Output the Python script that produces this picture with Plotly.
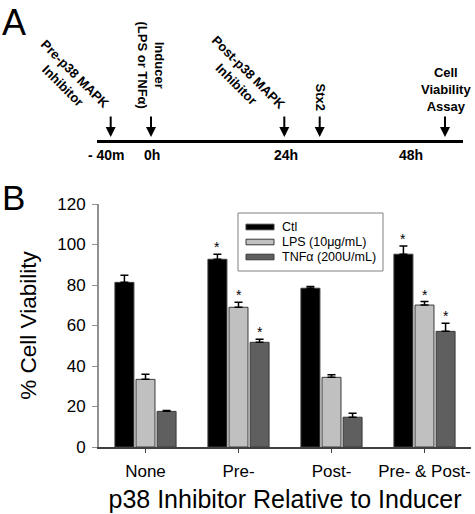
import plotly.graph_objects as go

categories = ["None", "Pre-", "Post-", "Pre- & Post-"]
series_names = ["Ctl", "LPS (10\u03bcg/mL)", "TNF\u03b1 (200U/mL)"]
ctl = [81.3, 92.7, 78.4, 95.2]
ctl_err = [3.5, 2.5, 0.8, 4.0]
lps = [33.4, 69.0, 34.4, 70.1]
lps_err = [2.5, 2.5, 1.3, 1.7]
tnf = [17.6, 51.7, 14.7, 57.1]
tnf_err = [0.4, 1.5, 2.0, 4.0]
ctl_sig = [False, True, False, True]
lps_sig = [False, True, False, True]
tnf_sig = [False, True, False, True]
y_ticks = [0, 20, 40, 60, 80, 100, 120]
time_labels = ["- 40m", "0h", "24h", "48h"]

colors = ["#000000", "#c0c0c0", "#5f5f5f"]
FONT = "Liberation Sans, Arial, sans-serif"

W, H = 475, 514
L, R, T, B = 99, 4, 204, 67
BARGAP = 0.32

fig = go.Figure()
values = [ctl, lps, tnf]
errs = [ctl_err, lps_err, tnf_err]
sigs = [ctl_sig, lps_sig, tnf_sig]
for name, v, e, c in zip(series_names, values, errs, colors):
    fig.add_trace(go.Bar(
        x=categories, y=v, name=name, showlegend=False,
        marker=dict(color=c, line=dict(color="#3a3a3a", width=1)),
        error_y=dict(type="data", array=e, arrayminus=[0] * len(e), symmetric=False,
                     color="#000000", thickness=1.5, width=4),
    ))

# significance stars
slot = (1 - BARGAP) / 3
for j, (v, e, s) in enumerate(zip(values, errs, sigs)):
    for i in range(len(categories)):
        if s[i]:
            fig.add_annotation(x=i + (j - 1) * slot, y=v[i] + e[i], xref="x", yref="y",
                               text="*", showarrow=False, xanchor="center", yanchor="bottom", yshift=-3,
                               font=dict(family=FONT, size=14, color="#000"))

# helpers: pixel position -> paper coords
def px(x):
    return (x - L) / (W - L - R)

def py(y):
    return (H - B - y) / (H - T - B)

def note(x, y, text, size=13, angle=0, yanchor="middle"):
    fig.add_annotation(xref="paper", yref="paper", x=px(x), y=py(y), text=text,
                       xanchor="center", yanchor=yanchor, textangle=angle, showarrow=False,
                       font=dict(family=FONT, size=size, color="#000"))

# manual legend
fig.add_shape(type="rect", xref="paper", yref="paper", x0=px(238), x1=px(383), y0=py(271), y1=py(213),
              line=dict(color="#808080", width=1), fillcolor="white", layer="above")
for k, (name, c) in enumerate(zip(series_names, colors)):
    yc = 227 + k * 15
    fig.add_shape(type="rect", xref="paper", yref="paper", x0=px(246), x1=px(274),
                  y0=py(yc + 2.8), y1=py(yc - 2.8), line=dict(color="#3a3a3a", width=1),
                  fillcolor=c, layer="above")
    fig.add_annotation(xref="paper", yref="paper", x=px(280), y=py(yc), text=name,
                       xanchor="left", yanchor="middle", showarrow=False,
                       font=dict(family=FONT, size=12.5, color="#000"))

# Panel A diagram
fig.add_shape(type="line", xref="paper", yref="paper", x0=px(97), x1=px(463), y0=py(141.5), y1=py(141.5),
              line=dict(color="#000", width=3))
for ax_x in [110.7, 151, 284.3, 319.7, 445]:
    fig.add_annotation(xref="paper", yref="paper", x=px(ax_x), y=py(137), ax=0, ay=-22,
                       showarrow=True, arrowhead=2, arrowsize=1, arrowwidth=2, arrowcolor="#000", text="")
for t, tx in zip(time_labels, [106.7, 152, 285.8, 410.5]):
    note(tx, 155, "<b>%s</b>" % t, size=14)

note(69, 80, "<b>Pre-p38 MAPK<br>Inhibitor</b>", angle=45)
note(242, 78, "<b>Post-p38 MAPK<br>Inhibitor</b>", angle=45)
note(150, 64.5, "<b>Inducer<br>(LPS or TNF\u03b1)</b>", angle=90)
note(319.5, 97, "<b>Stx2</b>", angle=90)
note(446, 90, "<b>Cell<br>Viability<br>Assay</b>")
note(14, 0, "A", size=36, yanchor="top")
note(13, 198, "B", size=35)

fig.update_layout(
    width=W, height=H,
    margin=dict(l=L, r=R, t=T, b=B, autoexpand=False),
    paper_bgcolor="white", plot_bgcolor="white",
    barmode="group", bargap=BARGAP, bargroupgap=0.1,
    font=dict(family=FONT, color="#000"),
    showlegend=False,
    xaxis=dict(showline=True, linecolor="#404040", linewidth=1.5, ticks="outside", ticklen=4,
               tickcolor="#404040", tickfont=dict(size=17), range=[-0.5, 3.5], automargin=False,
               ticklabelstandoff=4,
               title=dict(text="p38 Inhibitor Relative to Inducer", font=dict(size=25), standoff=10)),
    yaxis=dict(range=[0, 120], tickvals=y_ticks, showline=True, linecolor="#909090", linewidth=2,
               ticks="outside", ticklen=5, tickcolor="#909090", showgrid=False, zeroline=False,
               tickfont=dict(size=17), automargin=False, ticklabelstandoff=3,
               title=dict(text="% Cell Viability", font=dict(size=22.5), standoff=14)),
)

fig.write_html("out.html", config={"displayModeBar": False},
               post_script="document.body.style.margin='0px';")
